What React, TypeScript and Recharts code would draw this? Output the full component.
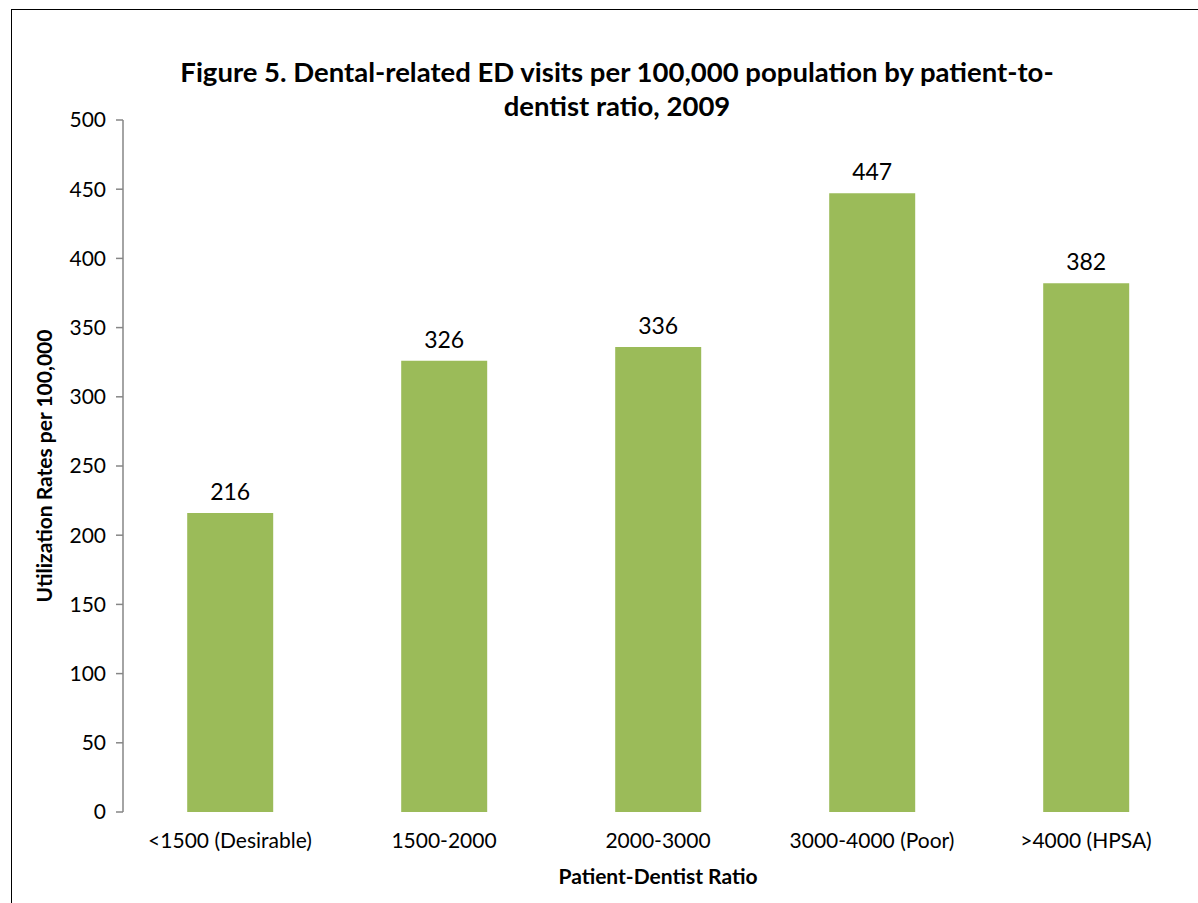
import React from "react";
import { BarChart, Bar, XAxis, YAxis, LabelList } from "recharts";

const categories = ["<1500 (Desirable)", "1500-2000", "2000-3000", "3000-4000 (Poor)", ">4000 (HPSA)"];
const rates = [216, 326, 336, 447, 382];
const yTicks = [0, 50, 100, 150, 200, 250, 300, 350, 400, 450, 500];
const boundaryTicks = [0, 1, 2, 3, 4, 5];

const title1 = "Figure 5. Dental-related ED visits per 100,000 population by patient-to-";
const title2 = "dentist ratio, 2009";
const xTitle = "Patient-Dentist Ratio";
const yTitle = "Utilization Rates per 100,000";

const data = categories.map((c, i) => ({ name: c, value: rates[i] }));

const FONT = "Lato, 'Open Sans', sans-serif";
const AXIS = "#868686";

export default function App() {
  return (
    <div style={{ position: "absolute", left: 0, top: 0, width: 1198, height: 903, background: "#fff", overflow: "hidden", fontFamily: FONT }}>
      <div style={{ position: "absolute", left: 11, top: 9, width: 1300, height: 1000, borderLeft: "1px solid #000", borderTop: "1px solid #000" }} />
      <div style={{ position: "absolute", left: 117, top: 55, width: 1000, textAlign: "center", fontWeight: 700, fontSize: 27.5, lineHeight: "34px", color: "#000", whiteSpace: "nowrap" }}>
        <div>{title1}</div>
        <div>{title2}</div>
      </div>
      <div style={{ position: "absolute", left: 0, top: 0 }}>
        <BarChart width={1198} height={903} data={data} margin={{ top: 120, right: 5, bottom: 0, left: 0 }} barCategoryGap="30%">
          <XAxis
            xAxisId="grid"
            type="number"
            domain={[0, 5]}
            ticks={boundaryTicks}
            tick={false}
            height={0}
            tickSize={7}
            axisLine={{ stroke: AXIS, strokeWidth: 1.5 }}
            tickLine={{ stroke: AXIS, strokeWidth: 1.5 }}
            allowDataOverflow
          />
          <XAxis
            xAxisId="cat"
            dataKey="name"
            type="category"
            height={91}
            axisLine={false}
            tickLine={false}
            tickSize={0}
            tickMargin={21}
            tick={{ fill: "#000", fontSize: 21, fontFamily: FONT }}
            interval={0}
            label={{ value: xTitle, position: "insideBottom", offset: 19, style: { fill: "#000", fontSize: 21, fontWeight: 700, fontFamily: FONT } }}
          />
          <YAxis
            domain={[0, 500]}
            ticks={yTicks}
            width={123}
            tickSize={7}
            tickMargin={10}
            axisLine={{ stroke: AXIS, strokeWidth: 1.5 }}
            tickLine={{ stroke: AXIS, strokeWidth: 1.5 }}
            tick={{ fill: "#000", fontSize: 21, fontFamily: FONT }}
            label={{ value: yTitle, angle: -90, position: "insideLeft", offset: 45, style: { textAnchor: "middle", fill: "#000", fontSize: 21, fontWeight: 700, fontFamily: FONT } }}
          />
          <Bar xAxisId="cat" dataKey="value" fill="#9BBB59" isAnimationActive={false}>
            <LabelList dataKey="value" position="top" offset={13} style={{ fill: "#000", fontSize: 23, fontFamily: FONT }} />
          </Bar>
        </BarChart>
      </div>
    </div>
  );
}
